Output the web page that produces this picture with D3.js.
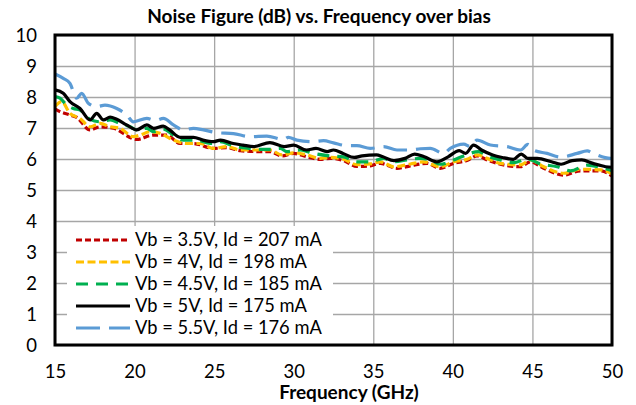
<!DOCTYPE html>
<html>
<head>
<meta charset="utf-8">
<script src="https://cdn.jsdelivr.net/npm/d3@7"></script>
<style>
  body { margin: 0; background: #fff; }
  text { font-family: Lato, "Open Sans", sans-serif; fill: #000; }
</style>
</head>
<body>
<div id="chart"></div>
<script>
// series, frequency in GHz / noise figure in dB
var freq35 = [15.0, 15.31, 15.94, 16.36, 17.2, 17.83, 18.67, 20.14, 21.18, 22.03, 22.86, 23.7, 24.96, 25.8, 26.64, 27.69, 28.52, 29.26, 30.0, 30.83, 31.67, 32.3, 33.13, 33.97, 34.81, 35.44, 36.49, 37.33, 38.38, 39.2, 40.05, 40.89, 41.52, 42.15, 42.99, 44.25, 44.87, 45.71, 46.97, 48.02, 49.28, 50.0];
var nf35 = [7.62, 7.53, 7.42, 7.34, 6.94, 7.04, 6.99, 6.63, 6.77, 6.77, 6.5, 6.5, 6.34, 6.37, 6.27, 6.24, 6.24, 6.1, 6.18, 6.07, 5.99, 6.02, 5.95, 5.76, 5.78, 5.86, 5.7, 5.78, 5.86, 5.7, 5.86, 5.95, 6.1, 5.97, 5.83, 5.75, 5.91, 5.7, 5.48, 5.62, 5.62, 5.45];

var freq4 = [15.0, 15.42, 15.94, 16.57, 17.2, 17.83, 18.46, 19.09, 19.92, 20.35, 20.97, 21.6, 22.44, 23.28, 24.12, 24.96, 25.8, 26.64, 27.69, 28.52, 29.26, 30.0, 30.83, 31.67, 32.3, 33.13, 33.97, 34.81, 35.44, 36.28, 37.33, 38.16, 39.2, 40.05, 40.89, 41.52, 42.15, 42.99, 44.25, 44.87, 45.71, 46.97, 48.02, 49.28, 50.0];
var nf4 = [7.69, 7.85, 7.47, 7.31, 7.04, 7.15, 7.04, 6.99, 6.72, 6.77, 6.88, 6.83, 6.61, 6.5, 6.5, 6.34, 6.4, 6.29, 6.29, 6.29, 6.13, 6.2, 6.13, 6.02, 6.05, 5.99, 5.82, 5.84, 5.91, 5.75, 5.84, 5.91, 5.75, 5.91, 5.99, 6.13, 6.02, 5.86, 5.81, 5.97, 5.75, 5.54, 5.67, 5.65, 5.52];

var freq45 = [15.0, 15.31, 15.74, 16.15, 16.57, 17.2, 17.83, 18.46, 19.09, 19.72, 20.14, 20.77, 21.18, 21.81, 22.44, 23.07, 23.91, 24.75, 25.38, 26.21, 27.26, 27.89, 28.52, 29.15, 29.57, 30.41, 31.25, 32.3, 33.13, 33.97, 34.81, 35.65, 36.28, 37.12, 37.96, 38.58, 39.2, 40.05, 40.68, 41.62, 42.15, 42.99, 43.82, 44.67, 45.5, 46.55, 47.39, 48.44, 49.28, 50.0];
var nf45 = [8.01, 7.96, 7.74, 7.63, 7.58, 7.28, 7.2, 7.26, 7.15, 7.04, 6.94, 6.99, 6.88, 6.96, 6.77, 6.61, 6.61, 6.5, 6.56, 6.42, 6.34, 6.31, 6.31, 6.34, 6.24, 6.29, 6.18, 6.1, 6.07, 5.91, 5.91, 6.02, 5.91, 5.97, 6.02, 5.97, 5.83, 5.97, 6.1, 6.24, 6.1, 5.97, 5.88, 6.0, 5.84, 5.75, 5.62, 5.8, 5.73, 5.62];

var freq5 = [15.0, 15.52, 15.94, 16.57, 17.2, 17.62, 18.04, 18.46, 18.88, 19.5, 20.14, 20.77, 21.2, 21.8, 22.2, 22.86, 23.7, 24.3, 24.96, 25.4, 26.2, 26.8, 27.5, 28.5, 29.4, 30.0, 30.8, 31.4, 32.1, 32.5, 33.1, 33.8, 34.3, 35.2, 35.6, 36.3, 37.0, 37.6, 38.2, 39.0, 39.7, 40.4, 40.8, 41.3, 41.8, 42.5, 43.1, 43.8, 44.3, 44.7, 45.3, 46.2, 46.8, 47.5, 48.1, 48.8, 49.6, 50.0];
var nf5 = [8.23, 8.12, 7.85, 7.63, 7.26, 7.47, 7.26, 7.35, 7.28, 7.1, 6.94, 7.1, 6.99, 7.06, 6.94, 6.7, 6.7, 6.61, 6.56, 6.61, 6.5, 6.45, 6.4, 6.53, 6.4, 6.45, 6.29, 6.34, 6.24, 6.29, 6.18, 6.05, 6.1, 6.13, 6.07, 5.95, 6.02, 6.16, 6.07, 5.91, 6.07, 6.27, 6.18, 6.45, 6.29, 6.13, 6.05, 5.99, 6.16, 6.02, 6.02, 5.91, 5.83, 5.95, 5.97, 5.86, 5.75, 5.73];

var freq55 = [15.0, 15.52, 15.94, 16.36, 16.68, 17.09, 17.62, 18.14, 18.88, 19.51, 19.92, 20.77, 21.29, 21.81, 22.44, 23.07, 23.7, 24.33, 25.17, 26.21, 27.26, 28.31, 29.36, 29.67, 30.2, 31.25, 31.87, 32.5, 33.35, 33.97, 34.81, 35.65, 36.49, 37.33, 37.96, 38.58, 39.42, 39.84, 40.68, 41.1, 41.52, 42.36, 43.41, 44.25, 44.72, 45.08, 45.92, 46.76, 47.81, 48.44, 48.86, 49.91, 50.0];
var nf55 = [8.74, 8.6, 8.44, 7.96, 8.12, 7.8, 7.69, 7.74, 7.63, 7.42, 7.2, 7.31, 7.24, 7.31, 7.1, 6.94, 6.99, 6.94, 6.85, 6.82, 6.72, 6.74, 6.63, 6.7, 6.61, 6.56, 6.59, 6.52, 6.43, 6.43, 6.34, 6.4, 6.29, 6.29, 6.33, 6.34, 6.18, 6.34, 6.48, 6.4, 6.61, 6.45, 6.4, 6.29, 6.47, 6.28, 6.18, 6.06, 6.18, 6.26, 6.17, 6.02, 6.02];

var seriesNames = ["Vb = 3.5V, Id = 207 mA", "Vb = 4V, Id = 198 mA", "Vb = 4.5V, Id = 185 mA", "Vb = 5V, Id = 175 mA", "Vb = 5.5V, Id = 176 mA"];
var seriesFreqs = [freq35, freq4, freq45, freq5, freq55];
var seriesValues = [nf35, nf4, nf45, nf5, nf55];
var seriesColors = ["#C00000", "#FFC000", "#00B050", "#000000", "#5B9BD5"];
var seriesDashes = ["6,3", "8,3.5", "12,8", null, "24,9"];

var xTicks = [15, 20, 25, 30, 35, 40, 45, 50];
var yTicks = [0, 1, 2, 3, 4, 5, 6, 7, 8, 9, 10];

var chartTitle = "Noise Figure (dB) vs. Frequency over bias";
var xTitle = "Frequency (GHz)";

var width = 636, height = 405;
var plot = {left: 55, right: 612, top: 35, bottom: 345};

var svg = d3.select("#chart").append("svg")
  .attr("width", width)
  .attr("height", height);

var x = d3.scaleLinear().domain([15, 50]).range([plot.left, plot.right]);
var y = d3.scaleLinear().domain([0, 10]).range([plot.bottom, plot.top]);

// gridlines
svg.append("g")
  .attr("transform", "translate(0," + plot.bottom + ")")
  .call(d3.axisBottom(x).tickValues(xTicks).tickSize(-(plot.bottom - plot.top)).tickFormat(""))
  .call(function(g){
    g.select(".domain").remove();
    g.selectAll("line").attr("stroke", "#A6A6A6").attr("stroke-width", 1.3);
  });
svg.append("g")
  .attr("transform", "translate(" + plot.left + ",0)")
  .call(d3.axisLeft(y).tickValues(yTicks).tickSize(-(plot.right - plot.left)).tickFormat(""))
  .call(function(g){
    g.select(".domain").remove();
    g.selectAll("line").attr("stroke", "#A6A6A6").attr("stroke-width", 1.3);
  });

// tick labels
svg.append("g")
  .attr("transform", "translate(0," + (plot.bottom + 33) + ")")
  .call(d3.axisBottom(x).tickValues(xTicks).tickSize(0).tickPadding(0))
  .call(function(g){
    g.select(".domain").remove();
    g.selectAll("text").attr("font-size", "18.5px").attr("dy", 0).attr("font-family", "Lato");
  });
svg.append("g")
  .attr("transform", "translate(" + (plot.left - 18) + ",0)")
  .call(d3.axisLeft(y).tickValues(yTicks).tickSize(0).tickPadding(0))
  .call(function(g){
    g.select(".domain").remove();
    g.selectAll("text").attr("font-size", "18.5px").attr("dy", "0.35em").attr("font-family", "Lato");
  });

var line = d3.line()
  .x(function(d){ return x(d[0]); })
  .y(function(d){ return y(d[1]); })
  .curve(d3.curveMonotoneX);

var series = seriesNames.map(function(name, i){
  return {
    name: name,
    color: seriesColors[i],
    dash: seriesDashes[i],
    points: d3.zip(seriesFreqs[i], seriesValues[i])
  };
});

svg.append("g").selectAll("path")
  .data(series)
  .enter().append("path")
  .attr("d", function(d){ return line(d.points); })
  .attr("fill", "none")
  .attr("stroke", function(d){ return d.color; })
  .attr("stroke-width", 3.2)
  .attr("stroke-dasharray", function(d){ return d.dash; })
  .attr("stroke-linejoin", "round");

// legend box sits on top of the gridlines
var legend = svg.append("g");
legend.append("rect")
  .attr("x", 67).attr("y", 226)
  .attr("width", 266).attr("height", plot.bottom - 226)
  .attr("fill", "#fff");

var rows = legend.selectAll(".row")
  .data(series)
  .enter().append("g")
  .attr("class", "row")
  .attr("transform", function(d, i){ return "translate(0," + (240 + i * 22) + ")"; });
rows.append("line")
  .attr("x1", 76).attr("x2", 130)
  .attr("stroke", function(d){ return d.color; })
  .attr("stroke-width", 3.2)
  .attr("stroke-dasharray", function(d){ return d.dash; });
rows.append("text")
  .attr("x", 135)
  .attr("dy", "0.35em")
  .attr("font-size", "18.3px")
  .text(function(d){ return d.name; });

// plot border
svg.append("rect")
  .attr("x", plot.left).attr("y", plot.top)
  .attr("width", plot.right - plot.left)
  .attr("height", plot.bottom - plot.top)
  .attr("fill", "none")
  .attr("stroke", "#000")
  .attr("stroke-width", 3);

svg.append("text")
  .attr("x", 319).attr("y", 23)
  .attr("text-anchor", "middle")
  .attr("font-size", "19px")
  .attr("font-weight", "bold")
  .text(chartTitle);

svg.append("text")
  .attr("x", 349).attr("y", 399)
  .attr("text-anchor", "middle")
  .attr("font-size", "19px")
  .attr("font-weight", "bold")
  .text(xTitle);
</script>
</body>
</html>
